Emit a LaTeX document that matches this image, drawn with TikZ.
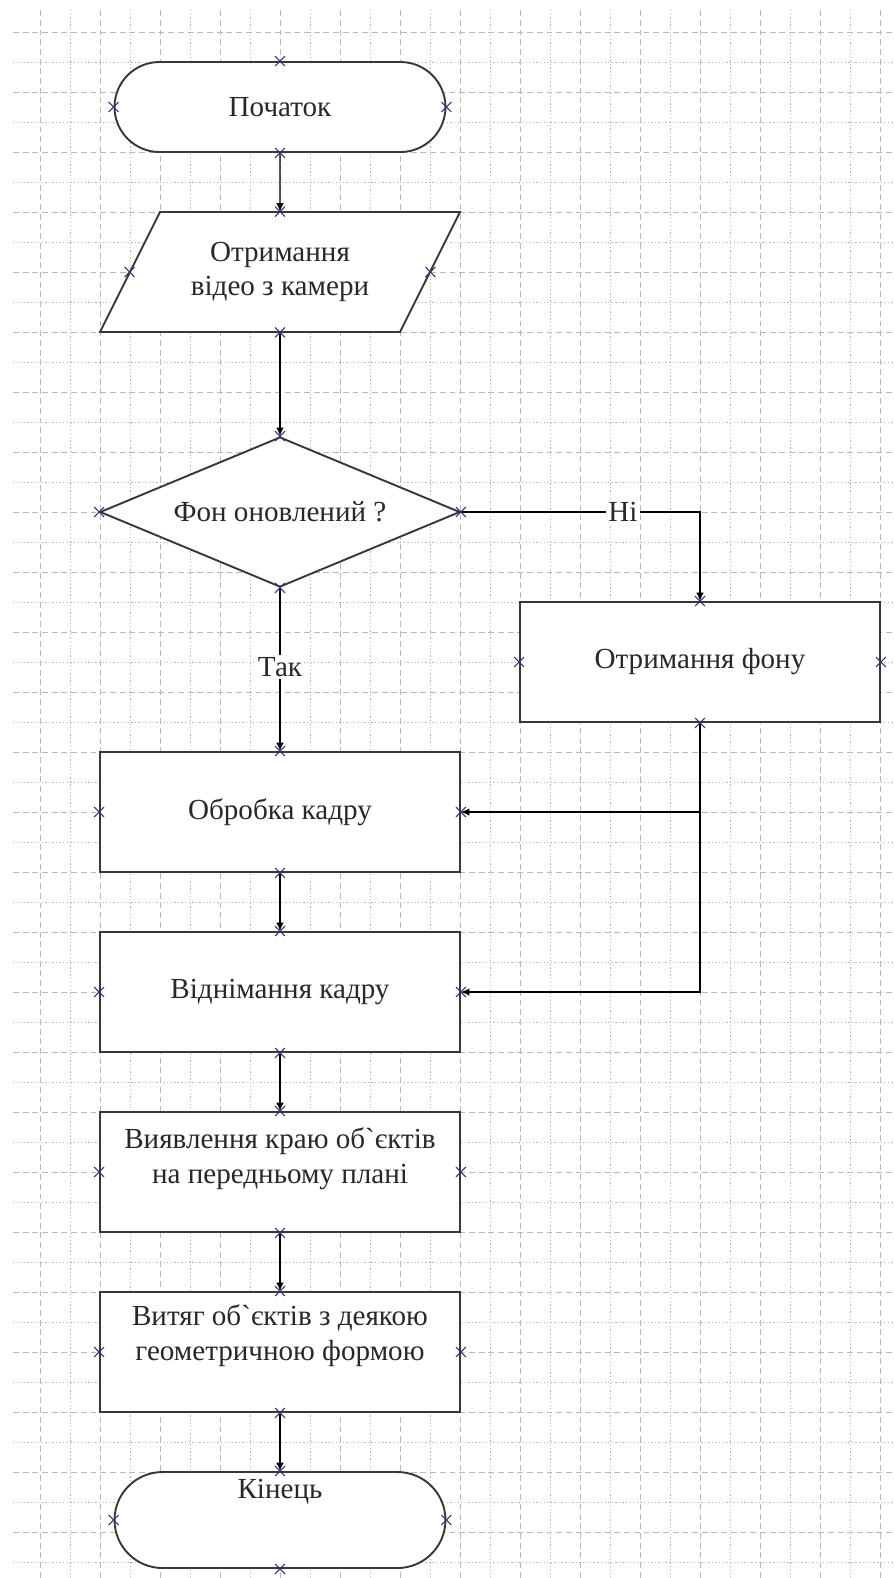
\documentclass[tikz,border=0pt]{standalone}
\usepackage{fontspec}
\setmainfont{Liberation Serif}[Ligatures=TeXOff]
\usetikzlibrary{arrows.meta,positioning,shapes.geometric,shapes.misc}
\definecolor{shline}{RGB}{55,55,55}
\definecolor{txtgray}{RGB}{40,40,40}
\definecolor{mkblue}{RGB}{50,50,115}
\definecolor{grdgray}{RGB}{185,185,185}
\newcommand{\flfont}{\fontsize{13.8}{16.5}\selectfont}
\newcommand{\xmarks}[1]{%
  \foreach \a in {north,south,east,west}
    \node[xmk] (#1-\a) at (#1.\a) {};}
\tikzset{
  grd/.style={grdgray, line width=0.45pt},
  gdash/.style={grd, dash pattern=on 2.8pt off 1.8pt},
  gdot/.style={grd, dash pattern=on 0.6pt off 1.1pt},
  term/.style={rounded rectangle, draw=shline, line width=0.9pt, fill=white,
    minimum width=5.75cm, minimum height=1.5cm, font=\flfont, text=txtgray},
  proc/.style={rectangle, draw=shline, line width=0.9pt, fill=white,
    minimum width=6cm, minimum height=2cm, font=\flfont, text=txtgray, align=center},
  iobox/.style={rectangle, minimum width=5cm, minimum height=2cm, inner sep=0pt,
    font=\flfont, text=txtgray, align=center},
  shp/.style={draw=shline, line width=0.9pt, fill=white},
  dec/.style={diamond, aspect=2.4, draw=shline, line width=0.9pt, fill=white,
    minimum width=6cm, minimum height=2.5cm, inner sep=1pt, font=\flfont, text=txtgray},
  btxt/.style={font=\flfont, text=txtgray, align=center, inner sep=0pt},
  lbl/.style={font=\flfont, text=txtgray, fill=white, inner sep=1pt},
  conn/.style={-{Latex[length=4pt,width=3.6pt]}, black, line width=0.7pt},
  xmk/.style={cross out, draw=mkblue, line width=0.5pt, minimum size=4.2pt, inner sep=0pt},
}
\begin{document}
\begin{tikzpicture}[x=0.5cm,y=-0.5cm]
\useasboundingbox (-0.333,-0.067) rectangle (29.467,52.533);
% grid
\foreach \i in {1,3,...,29} \draw[gdash] (\i,0.27) -- (\i,52.533);
\foreach \i in {2,4,...,28} \draw[gdot] (\i,0.27) -- (\i,52.533);
\foreach \j in {1,3,...,51} \draw[gdash] (0.1,\j) -- (29.467,\j);
\foreach \j in {2,4,...,52} \draw[gdot] (0.1,\j) -- (29.467,\j);

% shapes
\node[term] (start) at (9,3.5) {Початок};
\draw[shp] (3,11) -- (13,11) -- (15,7) -- (5,7) -- cycle;
\node[iobox] (cam) at (9,9) {Отримання\\відео з камери};
\node[dec] (upd) at (9,17) {Фон оновлений ?};
\node[proc] (bg) at (23,22) {Отримання фону};
\node[proc] (frm) at (9,27) {Обробка кадру};
\node[proc] (sub) at (9,33) {Віднімання кадру};
\node[proc] (edg) at (9,39) {};
\node[btxt] (edgt) at (9,38.55) {Виявлення краю об`єктів\\на передньому плані};
\node[proc] (extr) at (9,45) {};
\node[btxt] (extrt) at (9,44.45) {Витяг об`єктів з деякою\\геометричною формою};
\node[term, minimum height=1.6cm] (stop) at (9,50.6) {};
\node[btxt] (stopt) at (9,49.65) {Кінець};

% connectors
\coordinate (jn) at (bg.south |- frm.east);
\draw[conn] (start) -- (cam);
\draw[conn] (cam) -- (upd);
\draw[conn] (upd.east) -| (bg.north);
\draw[conn] (upd.south) -- (frm.north);
\draw[conn] (bg.south) |- (sub.east);
\draw[conn] (jn) -- (frm.east);
\draw[conn] (frm) -- (sub);
\draw[conn] (sub) -- (edg);
\draw[conn] (edg) -- (extr);
\draw[conn] (extr) -- (stop);
\node[lbl] (ni) at (20.43,17) {Ні};
\node[lbl] (tak) at (9,22.17) {Так};

% connection points
\xmarks{start}
\xmarks{cam}
\xmarks{upd}
\xmarks{bg}
\xmarks{frm}
\xmarks{sub}
\xmarks{edg}
\xmarks{extr}
\xmarks{stop}
\end{tikzpicture}
\end{document}
